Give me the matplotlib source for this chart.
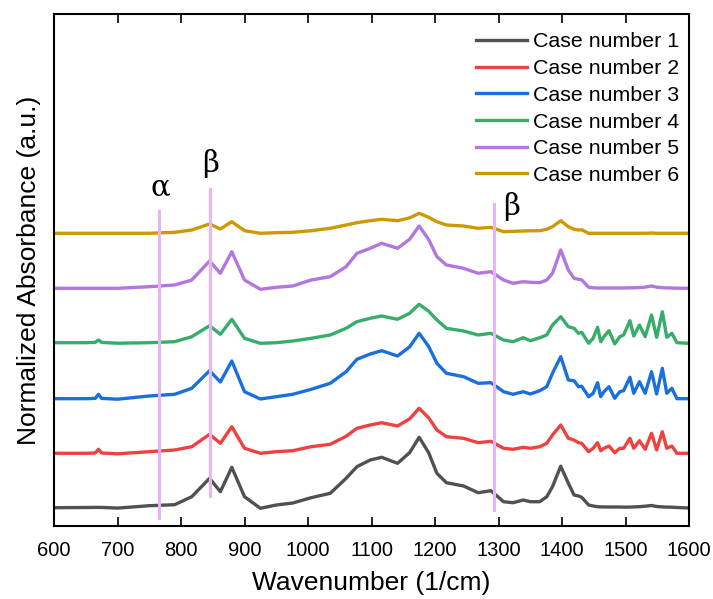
# plot.py
#   stacked FTIR-like spectra of six cases with marker lines (alpha / beta bands)

import matplotlib
matplotlib.use('Agg')
from matplotlib import pyplot as plt

plt.rcParams['font.family'] = ['Liberation Sans', 'DejaVu Sans']

# wavenumber grid (1/cm) and curve heights above each curve's own baseline (a.u.)
WAVENUMBER = [600, 650, 665, 670, 675, 700, 750, 790, 817, 845, 862, 880, 900, 925, 950, 976,
              1005, 1035, 1060, 1077, 1098, 1116, 1141, 1160, 1175, 1190, 1203, 1218, 1245,
              1268, 1288, 1308, 1323, 1339, 1350, 1365, 1376, 1385, 1398, 1410, 1419, 1426,
              1431, 1442, 1449, 1456, 1461, 1466, 1474, 1483, 1491, 1497, 1507, 1513, 1522,
              1531, 1541, 1549, 1558, 1565, 1573, 1581, 1600]

CASE1 = [0, 0.2, 0.3, 0.3, 0.3, -0.4, 2, 3, 11, 29.4, 16, 40.4, 11, -0.6, 2.7, 4.7,
         10, 14.4, 29.4, 41, 47.7, 50.4, 44.4, 55, 70.4, 55, 34.4, 25, 21.7,
         15, 17, 6, 5, 7.7, 6, 6, 11, 21, 41.5, 24.4, 12.7, 11.7,
         10.4, 2.7, 1.7, 1, 0.8, 0.8, 0.7, 0.7, 0.7, 0.6, 0.6, 0.8, 1,
         1.5, 2.2, 1.2, 0.8, 0.6, 0.5, 0.2, -0.3]
CASE2 = [0, 0, 0.3, 4, 0.3, -0.5, 1.6, 3.3, 6.6, 19, 10, 26.6, 5, 0, 1.6, 2.6,
         6.6, 9, 17, 25, 28.3, 30.6, 27.3, 34.4, 45, 35.5, 23.3, 16.6, 15,
         10.6, 12, 5, 4, 6, 5, 6.6, 10, 18.3, 28.3, 15, 13.3, 10.6,
         10, 1.6, 5, 10.6, 2.6, 5, 7.3, 0.6, 5, 5, 15, 5, 12.6,
         4, 20, 3.3, 21.6, 5, 7.3, 0, 0]
CASE3 = [0, 0, 0.3, 4.4, 0.3, -0.5, 2.7, 4.4, 10.4, 28, 16.7, 37.7, 7, -0.3, 2, 4.4,
         9.4, 15.4, 27, 39.4, 44.7, 48, 42.7, 51.8, 65.4, 52.2, 35.4, 25.4, 22,
         15.4, 16, 7, 4.4, 7, 4.7, 8, 12, 25.4, 42, 18.7, 18, 12,
         12.5, 2, 5.4, 16, 2, 7, 12, 0.4, 7, 8, 21.4, 5.4, 17,
         5.4, 27, 4.7, 30.4, 5.4, 10.4, 0, 0]
CASE4 = [0, 0, 0.3, 2.7, 0.3, -0.5, 0, 1, 6, 17, 8.4, 23.4, 4.4, -0.6, 0, 1.7,
         4.4, 7.7, 14.4, 21, 24.4, 26.7, 23.4, 29.4, 38.4, 31.5, 22.7, 14.4, 11.7,
         7.7, 9.4, 2.7, 1, 5, 2, 5, 7.7, 17.7, 26, 16, 14.4, 9.4,
         10.4, -0.6, 4.4, 15.4, 1, 6, 12, -1.3, 6, 7.7, 22, 6.7, 17.7,
         6, 27.7, 5.4, 31, 5.4, 9.4, 0, -0.6]
CASE5 = [0, 0, 0, 0, 0, 0, 1.6, 3.3, 8.3, 27.3, 15, 36.6, 8.3, -1, 1, 2.3,
         8.3, 11.6, 21.6, 35, 40, 45, 40, 49, 62.3, 48.8, 31.6, 23.3, 20,
         15, 16.6, 8.3, 5, 6.6, 6, 5.6, 8.3, 15, 38.3, 18.3, 10, 9,
         8.5, 1, 0.5, 0.3, 0.3, 0.3, 0.3, 0.3, 0.3, 0.3, 0.5, 0.5, 0.8,
         1.2, 2.3, 1.2, 0.6, 0.4, 0.3, 0.1, 0]
CASE6 = [0, 0, 0, 0, 0, 0, 0, 1, 3.3, 9.3, 4.3, 11.6, 2.6, 0, 0.6, 1,
         2.6, 5, 8.3, 10.6, 12.6, 14, 12.6, 15.4, 20, 16, 11.6, 8.3, 7.3,
         5, 6, 1.6, 2, 2.3, 2.5, 2.6, 4, 6.6, 12.6, 6.6, 4, 3.3,
         3.5, 0, 0, 0, 0, 0, 0, 0, 0, 0, 0, 0, 0,
         0, 0.3, 0, 0, 0, 0, 0, 0]

CASES = [CASE1, CASE2, CASE3, CASE4, CASE5, CASE6]
LABELS = ['Case number 1', 'Case number 2', 'Case number 3',
          'Case number 4', 'Case number 5', 'Case number 6']
OFFSETS = [0, 54.4, 109, 165, 219.4, 274.4]     # vertical shift of each spectrum
COLORS = ['#515151', '#F14040', '#1A6FDF', '#37AD6B', '#B177DE', '#CC9900']

# marker lines: position (1/cm), bottom, top, label
MARKS_X = [766, 845, 1293]
MARKS_Y0 = [-10.3, 11.7, -2.3]
MARKS_Y1 = [296.7, 318.7, 303.7]
MARK_TEXT = ['\u03b1', '\u03b2', '\u03b2']
MARK_TEXT_POS = [(768, 320), (847, 344), (1320, 301)]


def main():
    fig = plt.figure(figsize=(7.13, 5.99), dpi=100)
    ax = fig.add_axes([54/713, 1 - 526/599, 635/713, 512/599])

    for x, y0, y1 in zip(MARKS_X, MARKS_Y0, MARKS_Y1):
        ax.plot([x, x], [y0, y1], color='#E9B4F7', lw=2.2, zorder=3)

    for vals, off, col, lab in zip(CASES, OFFSETS, COLORS, LABELS):
        ax.plot(WAVENUMBER, [v + off for v in vals], color=col, lw=2.4,
                label=lab, solid_joinstyle='round', zorder=2)

    for txt, (tx, ty) in zip(MARK_TEXT, MARK_TEXT_POS):
        ax.text(tx, ty, txt, ha='center', va='center', fontsize=21,
                family=['DejaVu Serif', 'Liberation Serif'])

    ax.set_xlim(600, 1600)
    ax.set_ylim(-18.3, 493.7)
    ax.set_xticks(range(600, 1601, 100))
    ax.set_yticks([])
    ax.tick_params(axis='x', direction='in', length=6.5, width=1.2, top=True,
                   labelsize=14.5, pad=11)
    for s in ax.spines.values():
        s.set_linewidth(1.5)

    ax.set_xlabel('Wavenumber (1/cm)', fontsize=19, labelpad=8)
    ax.set_ylabel('Normalized Absorbance (a.u.)', fontsize=19, labelpad=9)

    ax.legend(loc='upper left', bbox_to_anchor=(0.6646, 0.964), frameon=False,
              fontsize=15.4, handlelength=2.4, handletextpad=0.25,
              labelspacing=0.36, borderpad=0, borderaxespad=0)

    fig.savefig('out.png', dpi=100)


if __name__ == '__main__':
    main()
